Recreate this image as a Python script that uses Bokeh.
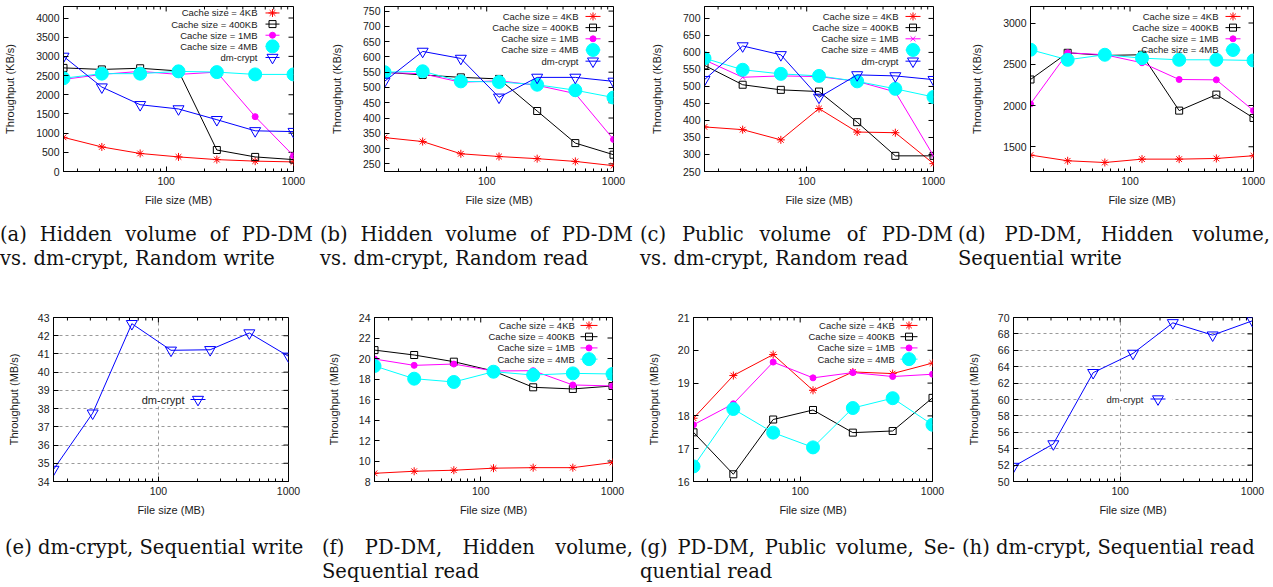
import math
from bokeh.plotting import figure
from bokeh.models import FixedTicker, Div, Range1d, PrintfTickFormatter
from bokeh.layouts import column, row
from bokeh.embed import file_html
from bokeh.resources import INLINE
from bokeh.core.properties import value

# ---------------- data ----------------
file_sizes = [15.625, 31.25, 62.5, 125, 250, 500, 1000]
x_major = [100, 1000]
x_minor = [20, 30, 40, 50, 60, 70, 80, 90, 200, 300, 400, 500, 600, 700, 800, 900]

name_4kb = "Cache size = 4KB"
name_400kb = "Cache size = 400KB"
name_1mb = "Cache size = 1MB"
name_4mb = "Cache size = 4MB"
name_dm = "dm-crypt"

# (a) Hidden volume vs dm-crypt, random write (KB/s)
a_4kb = [890, 640, 470, 380, 310, 270, 250]
a_400kb = [2700, 2660, 2690, 2620, 560, 380, 310]
a_1mb = [2400, 2530, 2610, 2530, 2590, 1430, 410]
a_4mb = [2430, 2550, 2550, 2610, 2590, 2530, 2530]
a_dm = [3000, 2200, 1740, 1630, 1350, 1060, 1040]

# (b) Hidden volume vs dm-crypt, random read (KB/s)
b_4kb = [336, 323, 283, 274, 267, 258, 244]
b_400kb = [550, 541, 533, 528, 423, 318, 280]
b_1mb = [549, 545, 517, 522, 507, 480, 330]
b_4mb = [550, 553, 520, 518, 509, 491, 467]
b_dm = [520, 618, 595, 468, 533, 533, 520]

# (c) Public volume vs dm-crypt, random read (KB/s)
c_4kb = [381, 373, 343, 435, 366, 364, 273]
c_400kb = [562, 505, 490, 485, 395, 296, 296]
c_1mb = [578, 527, 531, 529, 515, 484, 296]
c_4mb = [583, 549, 537, 531, 515, 493, 469]
c_dm = [520, 619, 593, 468, 534, 531, 520]

# (d) PD-DM hidden volume, sequential write (KB/s)
d_4kb = [1399, 1330, 1309, 1350, 1350, 1358, 1391]
d_400kb = [2315, 2639, 2607, 2615, 1938, 2132, 1849]
d_1mb = [2019, 2639, 2615, 2518, 2315, 2311, 1938]
d_4mb = [2676, 2554, 2615, 2574, 2554, 2554, 2546]

# (e) dm-crypt, sequential write (MB/s)
e_dm = [34.66, 37.75, 42.66, 41.2, 41.23, 42.15, 40.87]

# (f) PD-DM hidden volume, sequential read (MB/s)
f_4kb = [8.8, 9.0, 9.1, 9.3, 9.35, 9.35, 9.85]
f_400kb = [20.82, 20.34, 19.69, 18.78, 17.19, 17.03, 17.32]
f_1mb = [19.95, 19.33, 19.46, 18.78, 18.81, 17.42, 17.32]
f_4mb = [19.27, 18.03, 17.71, 18.71, 18.39, 18.55, 18.49]

# (g) PD-DM public volume, sequential read (MB/s)
g_4kb = [17.93, 19.23, 19.87, 18.78, 19.34, 19.29, 19.61]
g_400kb = [17.5, 16.22, 17.89, 18.18, 17.49, 17.54, 18.55]
g_1mb = [17.73, 18.37, 19.64, 19.16, 19.32, 19.2, 19.27]
g_4mb = [16.46, 18.21, 17.49, 17.04, 18.24, 18.54, 17.73]

# (h) dm-crypt, sequential read (MB/s)
h_dm = [51.83, 54.58, 63.27, 65.62, 69.35, 67.85, 69.6]

a_yticks = [0, 500, 1000, 1500, 2000, 2500, 3000, 3500, 4000]
b_yticks = [250, 300, 350, 400, 450, 500, 550, 600, 650, 700, 750]
c_yticks = [250, 300, 350, 400, 450, 500, 550, 600, 650, 700]
d_yticks = [1500, 2000, 2500, 3000]
e_yticks = [34, 35, 36, 37, 38, 39, 40, 41, 42, 43]
f_yticks = [8, 10, 12, 14, 16, 18, 20, 22, 24]
g_yticks = [16, 17, 18, 19, 20, 21]
h_yticks = [50, 52, 54, 56, 58, 60, 62, 64, 66, 68, 70]

captions_top = [
    ["(a) Hidden volume of PD-DM", "vs. dm-crypt, Random write"],
    ["(b) Hidden volume of PD-DM", "vs. dm-crypt, Random read"],
    ["(c) Public volume of PD-DM", "vs. dm-crypt, Random read"],
    ["(d) PD-DM, Hidden volume,", "Sequential write"],
]
captions_bottom = [
    ["(e) dm-crypt, Sequential write"],
    ["(f) PD-DM, Hidden volume,", "Sequential read"],
    ["(g) PD-DM, Public volume, Se-", "quential read"],
    ["(h) dm-crypt, Sequential read"],
]

# ---------------- styles ----------------
STY = {
    "4kb": dict(color="#ff0000", marker="asterisk", size=8, fill=None),
    "400kb": dict(color="#000000", marker="square", size=7, fill=None),
    "1mb": dict(color="#ff00ff", marker="circle", size=6, fill="#ff00ff"),
    "1mbx": dict(color="#ff00ff", marker="x", size=7, fill=None),
    "4mb": dict(color="#00ffff", marker="circle", size=13, fill="#00ffff"),
    "dm": dict(color="#0000ff", marker="inverted_triangle", size=11, fill=None),
}
FONT = "Liberation Sans"
TXT = "#1a1a1a"
XMIN, XMAX = file_sizes[0], file_sizes[-1]


def style_axis(ax, ticker, is_y):
    ax.ticker = ticker
    ax.axis_line_color = "black"
    ax.major_tick_line_color = "black"
    ax.major_tick_in = 5
    ax.major_tick_out = 0
    if is_y:
        ax.minor_tick_line_color = None
    else:
        ax.minor_tick_line_color = "black"
        ax.minor_tick_in = 3
        ax.minor_tick_out = 0
    ax.major_label_text_font = FONT
    ax.major_label_text_font_size = "10.5px"
    ax.major_label_text_color = TXT
    ax.major_label_standoff = 4 if is_y else 5
    ax.axis_label_text_font = FONT
    ax.axis_label_text_font_size = "11px"
    ax.axis_label_text_font_style = "normal"
    ax.axis_label_text_color = TXT


def panel(series, ylim, yticks, ylabel, W, H, L, R, T, B, leg, ylab_standoff, grid=False):
    p = figure(width=W, height=H, x_axis_type="log",
               x_range=Range1d(XMIN, XMAX), y_range=Range1d(*ylim),
               output_backend="svg", toolbar_location=None,
               min_border_left=L, min_border_right=R, min_border_top=T, min_border_bottom=B)
    p.background_fill_color = "white"
    p.border_fill_color = "white"
    p.outline_line_color = "black"
    p.outline_line_width = 1
    xt = FixedTicker(ticks=x_major, minor_ticks=x_minor)
    yt = FixedTicker(ticks=yticks)
    xa = p.below[0]
    ya = p.left[0]
    style_axis(xa, xt, False)
    style_axis(ya, yt, True)
    xa.formatter = PrintfTickFormatter(format="%d")
    xa.axis_label = "File size (MB)"
    xa.axis_label_standoff = 6
    ya.axis_label = ylabel
    ya.axis_label_standoff = ylab_standoff

    p.xgrid.ticker = xt
    p.ygrid.ticker = yt
    if grid:
        for g in (p.xgrid, p.ygrid):
            g.grid_line_color = "#9a9a9a"
            g.grid_line_dash = "3 3"
            g.grid_line_width = 1
    else:
        p.xgrid.grid_line_color = None
        p.ygrid.grid_line_color = None

    Wf = W - L - R
    Hf = H - T - B
    lmin, lmax = math.log10(XMIN), math.log10(XMAX)

    def lx(px):
        return 10 ** (lmin + px / Wf * (lmax - lmin))

    def ly(py):
        return ylim[1] - py / Hf * (ylim[1] - ylim[0])

    # mirrored inward ticks on the top and right borders (gnuplot style)
    p.segment(x0=x_major, x1=x_major, y0=[ylim[1]] * len(x_major), y1=[ly(5)] * len(x_major),
              line_color="black", line_width=1)
    p.segment(x0=x_minor, x1=x_minor, y0=[ylim[1]] * len(x_minor), y1=[ly(3)] * len(x_minor),
              line_color="black", line_width=1)
    p.segment(x0=[XMAX] * len(yticks), x1=[lx(Wf - 5)] * len(yticks), y0=yticks, y1=yticks,
              line_color="black", line_width=1)

    for key, vals, name in series:
        s = STY[key]
        p.line(file_sizes, vals, line_color=s["color"], line_width=1)
        p.scatter(file_sizes, vals, marker=s["marker"], size=s["size"],
                  line_color=s["color"], fill_color=s["fill"], line_width=1)

    # gnuplot-like key: text right aligned, sample to its right
    if leg.get("box"):
        b0, b1, bh = leg["box"]
        yc = leg["row0"]
        p.quad(left=[lx(Wf - b0)], right=[lx(Wf - b1)], top=[ly(yc - bh / 2)], bottom=[ly(yc + bh / 2)],
               fill_color="white", line_color=None)
    for i, (key, vals, name) in enumerate(series):
        s = STY[key]
        yy = ly(leg["row0"] + i * leg["dy"])
        p.text(x=[lx(Wf - leg["text_end"])], y=[yy], text=[name], text_align="right",
               text_baseline="middle", text_font=value(FONT), text_font_size=leg["font"],
               text_color=TXT)
        p.segment(x0=[lx(Wf - leg["s0"])], x1=[lx(Wf - leg["s1"])], y0=[yy], y1=[yy],
                  line_color=s["color"], line_width=1)
        p.scatter(x=[lx(Wf - (leg["s0"] + leg["s1"]) / 2)], y=[yy], marker=s["marker"], size=s["size"],
                  line_color=s["color"], fill_color=s["fill"], line_width=1)
    return p


leg_a = dict(text_end=36, s0=28, s1=14, row0=6.5, dy=11.2, font="9.5px")
leg_top = dict(text_end=35, s0=28, s1=13, row0=10, dy=11.25, font="9.5px")
leg_bot = dict(text_end=37.7, s0=32, s1=15, row0=8, dy=11.3, font="9.5px")
leg_e = dict(text_end=104, s0=98, s1=83, row0=82, dy=0, font="11px", box=(155, 78, 12))
leg_h = dict(text_end=109, s0=102, s1=87, row0=82, dy=0, font="9.5px", box=(160, 80, 12))

KB = "Throughput (KB/s)"
MB = "Throughput (MB/s)"

pa = panel([("4kb", a_4kb, name_4kb), ("400kb", a_400kb, name_400kb), ("1mb", a_1mb, name_1mb),
            ("4mb", a_4mb, name_4mb), ("dm", a_dm, name_dm)],
           (0, 4300), a_yticks, KB, 320, 210, 63, 27, 5, 39, leg_a, 17)
pb = panel([("4kb", b_4kb, name_4kb), ("400kb", b_400kb, name_400kb), ("1mb", b_1mb, name_1mb),
            ("4mb", b_4mb, name_4mb), ("dm", b_dm, name_dm)],
           (225, 765), b_yticks, KB, 320, 210, 64, 27, 6, 38, leg_top, 17)
pc = panel([("4kb", c_4kb, name_4kb), ("400kb", c_400kb, name_400kb), ("1mbx", c_1mb, name_1mb),
            ("4mb", c_4mb, name_4mb), ("dm", c_dm, name_dm)],
           (250, 735), c_yticks, KB, 320, 210, 64, 27, 6, 38, leg_top, 17)
pd_ = panel([("4kb", d_4kb, name_4kb), ("400kb", d_400kb, name_400kb), ("1mb", d_1mb, name_1mb),
             ("4mb", d_4mb, name_4mb)],
            (1200, 3200), d_yticks, KB, 313, 210, 70, 20, 6, 38, leg_top, 17)

pe = panel([("dm", e_dm, name_dm)], (34, 43), e_yticks, MB, 320, 220, 53, 32, 17, 39, leg_e, 15, grid=True)
pf = panel([("4kb", f_4kb, name_4kb), ("400kb", f_400kb, name_400kb), ("1mb", f_1mb, name_1mb),
            ("4mb", f_4mb, name_4mb)],
           (8, 24), f_yticks, MB, 320, 220, 54, 28, 17, 38, leg_bot, 16)
pg = panel([("4kb", g_4kb, name_4kb), ("400kb", g_400kb, name_400kb), ("1mb", g_1mb, name_1mb),
            ("4mb", g_4mb, name_4mb)],
           (16, 21), g_yticks, MB, 320, 220, 53, 28, 17, 38, leg_bot, 15)
ph = panel([("dm", h_dm, name_dm)], (50, 70), h_yticks, MB, 313, 220, 53, 21, 17, 38, leg_h, 15, grid=True)


def caption(lines, width, height, pad_top, left, line_w, justify):
    parts = []
    for i, t in enumerate(lines):
        j = "text-align:justify;text-align-last:justify;" if (i == 0 and justify) else "text-align:left;"
        parts.append(f'<div style="width:{line_w}px;margin-left:{left}px;{j}white-space:normal;">{t}</div>')
    html = ('<div style="padding-top:%dpx;font-family:\'DejaVu Serif\';font-size:19.5px;'
            'line-height:24px;color:#111111;">' % pad_top) + "".join(parts) + "</div>"
    return Div(text=html, width=width, height=height, margin=(0, 0, 0, 0))


top_caps = [
    caption(captions_top[0], 320, 90, 13, 0, 313, True),
    caption(captions_top[1], 320, 90, 13, 0, 313, True),
    caption(captions_top[2], 320, 90, 13, 0, 313, True),
    caption(captions_top[3], 313, 90, 13, -2, 312, True),
]
bot_caps = [
    caption(captions_bottom[0], 320, 67, 16, 5, 310, False),
    caption(captions_bottom[1], 320, 67, 16, 2, 311, True),
    caption(captions_bottom[2], 320, 67, 16, 0, 315, True),
    caption(captions_bottom[3], 313, 67, 16, 2, 310, False),
]

layout = column(row(pa, pb, pc, pd_), row(*top_caps), row(pe, pf, pg, ph), row(*bot_caps))
open("out.html", "w").write(file_html(layout, INLINE))
